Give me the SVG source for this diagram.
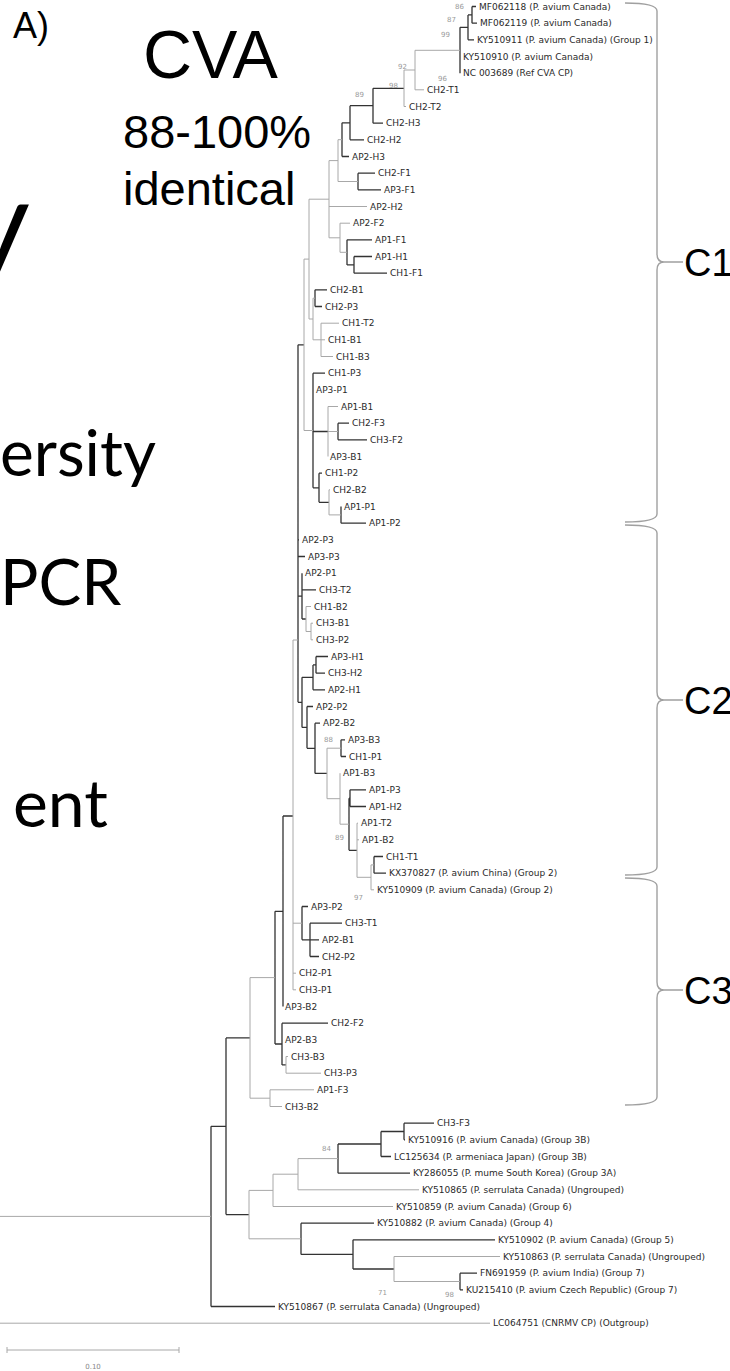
<svg xmlns="http://www.w3.org/2000/svg" width="730" height="1371" viewBox="0 0 730 1371">
<style>
.k{fill:none;stroke:#333;stroke-width:1.3}
.g{fill:none;stroke:#a8a8a8;stroke-width:1}
.br{fill:none;stroke:#a0a0a0;stroke-width:1.4}
.lb{font-family:"DejaVu Sans",sans-serif;font-size:9px;fill:#2a2a2a}
.bs{font-family:"DejaVu Sans",sans-serif;font-size:7px;fill:#9a9a9a}
.big{font-family:"Liberation Sans",Arial,sans-serif;fill:#000}
.sl{font-family:Lato,"Open Sans",sans-serif;fill:#000}
</style>
<rect width="730" height="1371" fill="#fff"/>
<g id="slide-text">
<text class="big" x="13" y="38" font-size="36">A)</text>
<text class="big" x="143" y="78" font-size="68">CVA</text>
<text class="big" x="123" y="148" font-size="47">88-100%</text>
<text class="big" x="123" y="205" font-size="47">identical</text>
<text class="sl" x="-32" y="265" font-size="120">y</text>
<text class="sl" x="0" y="476" font-size="64">ersity</text>
<text class="sl" x="0" y="605" font-size="64">PCR</text>
<text class="sl" x="13" y="827" font-size="66">ent</text>
</g>
<g id="connectors">
<path class="k" d="M472 6.5V23.2M472 6.5H476M472 23.2H477M468 14.9V39.8M468 14.9H472M468 39.8H474M460 27.3V73.2M460 27.3H468M373 88.3V123.2M373 88.3H404M373 123.2H383M350 105.7V139.8M350 105.7H373M350 139.8H364M342 122.8V156.5M342 122.8H350M342 156.5H349M358 173.2V189.8M358 173.2H375M358 189.8H381M354 256.5V273.2M354 256.5H372M354 273.2H387M347 239.8V264.9M347 239.8H372M347 264.9H354M315 289.8V306.5M315 289.8H327M315 306.5H322M338 423.2V439.8M338 423.2H349M338 439.8H367M341 506.5V523.2M341 523.2H366M319 473.2V502.3M319 473.2H322M319 502.3H329M313 373.2V487.8M313 373.2H325M313 431.5H328M313 487.8H319M298 344.8V702.3M298 344.8H304M298 539.8H299M298 556.5H305M298 596.1H302M298 702.3H302M302 573.2V619M302 589.8H316M302 619H306M316 656.5V673.2M316 656.5H328M316 673.2H325M313 664.9V689.8M313 664.9H316M313 689.8H325M302 677.3V727.4M302 677.3H313M302 727.4H307M307 706.5V748.3M307 706.5H313M307 748.3H315M315 723.2V773.4M315 723.2H320M315 773.4H327M341 739.8V756.5M341 739.8H345M341 756.5H346M349 798.2V850.3M349 798.2H350M349 850.3H357M350 789.8V806.5M350 789.8H366M350 806.5H366M374 856.5V873.2M374 856.5H383M374 873.2H386M302 906.5V939.8M302 906.5H308M302 939.8H310M310 923.2V956.5M310 923.2H342M310 939.8H319M310 956.5H319M283 816V1006.5M283 816H293M282 1023.2V1064.9M282 1023.2H328M282 1064.9H286M275 911.3V1044M275 911.3H283M275 1044H282M226 1037.9V1214.6M226 1037.9H250M226 1214.6H249M338 1144V1173.2M338 1144H381M338 1173.2H410M381 1131.5V1156.5M381 1131.5H404M381 1156.5H391M404 1123.2V1139.8M404 1123.2H434M404 1139.8H405M301 1223.2V1254.4M301 1223.2H374M301 1254.4H353M353 1239.8V1269M353 1239.8H495M353 1269H394M460 1273.2V1289.8M460 1273.2H477M460 1289.8H463M211 1126.3V1306.5M211 1126.3H226M211 1306.5H275"/>
<path class="g" d="M415 50.3V89.8M415 50.3H460M415 89.8H424M404 70V106.5M404 70H415M404 106.5H406M338 139.7V181.5M338 139.7H342M338 181.5H358M340 223.2V252.3M340 223.2H350M340 252.3H347M329 160.6V237.8M329 160.6H338M329 206.5H367M329 237.8H340M321 323.2V356.5M321 323.2H339M321 339.8H325M321 356.5H333M313 298.2V339.8M313 298.2H315M313 339.8H321M309 199.2V319M309 199.2H329M309 319H313M328 406.5V456.5M328 406.5H338M328 431.5H338M329 489.8V514.9M329 489.8H330M329 514.9H341M304 259.1V430.5M304 259.1H309M304 430.5H313M311 623.2V639.8M311 623.2H313M311 639.8H313M306 606.5V631.5M306 606.5H311M306 631.5H311M327 748.2V798.7M327 748.2H341M327 798.7H340M340 773.2V824.2M340 824.2H349M357 823.2V877.3M357 823.2H358M357 839.8H359M357 877.3H371M371 864.9V889.8M371 864.9H374M371 889.8H374M293 640V989.8M293 640H298M293 923.2H302M293 973.2H296M293 989.8H296M286 1056.5V1073.2M286 1056.5H288M286 1073.2H321M270 1089.8V1106.5M270 1089.8H314M270 1106.5H282M250 977.6V1098.2M250 977.6H275M250 1098.2H270M249 1190.4V1238.8M249 1190.4H273M249 1238.8H301M273 1174.2V1206.5M273 1174.2H298M273 1206.5H393M298 1158.6V1189.8M298 1158.6H338M298 1189.8H419M394 1256.5V1281.5M394 1256.5H500M394 1281.5H460M0 1216.4H211M0 1323.2H490"/>
</g>
<g id="bootstrap">
<text class="bs" x="455" y="9">86</text>
<text class="bs" x="447" y="22">87</text>
<text class="bs" x="441" y="37">99</text>
<text class="bs" x="398" y="69">92</text>
<text class="bs" x="389" y="88">98</text>
<text class="bs" x="438" y="81">96</text>
<text class="bs" x="355" y="97">89</text>
<text class="bs" x="324" y="742">88</text>
<text class="bs" x="335" y="840">89</text>
<text class="bs" x="354" y="900">97</text>
<text class="bs" x="322" y="1151">84</text>
<text class="bs" x="378" y="1295">71</text>
<text class="bs" x="445" y="1297">98</text>
</g>
<g id="leaves" class="lb">
<g id="L01"><text x="479" y="9.7">MF062118 (P. avium Canada)</text></g>
<g id="L02"><text x="480" y="26.4">MF062119 (P. avium Canada)</text></g>
<g id="L03"><text x="477" y="43">KY510911 (P. avium Canada) (Group 1)</text></g>
<g id="L04"><text x="463" y="59.7">KY510910 (P. avium Canada)</text></g>
<g id="L05"><text x="463" y="76.4">NC 003689 (Ref CVA CP)</text></g>
<g id="L06"><text x="427" y="93">CH2-T1</text></g>
<g id="L07"><text x="409" y="109.7">CH2-T2</text></g>
<g id="L08"><text x="386" y="126.4">CH2-H3</text></g>
<g id="L09"><text x="367" y="143">CH2-H2</text></g>
<g id="L10"><text x="352" y="159.7">AP2-H3</text></g>
<g id="L11"><text x="378" y="176.4">CH2-F1</text></g>
<g id="L12"><text x="384" y="193">AP3-F1</text></g>
<g id="L13"><text x="370" y="209.7">AP2-H2</text></g>
<g id="L14"><text x="353" y="226.4">AP2-F2</text></g>
<g id="L15"><text x="375" y="243">AP1-F1</text></g>
<g id="L16"><text x="375" y="259.7">AP1-H1</text></g>
<g id="L17"><text x="390" y="276.4">CH1-F1</text></g>
<g id="L18"><text x="330" y="293">CH2-B1</text></g>
<g id="L19"><text x="325" y="309.7">CH2-P3</text></g>
<g id="L20"><text x="342" y="326.4">CH1-T2</text></g>
<g id="L21"><text x="328" y="343">CH1-B1</text></g>
<g id="L22"><text x="336" y="359.7">CH1-B3</text></g>
<g id="L23"><text x="328" y="376.4">CH1-P3</text></g>
<g id="L24"><text x="316" y="393">AP3-P1</text></g>
<g id="L25"><text x="341" y="409.7">AP1-B1</text></g>
<g id="L26"><text x="352" y="426.4">CH2-F3</text></g>
<g id="L27"><text x="370" y="443">CH3-F2</text></g>
<g id="L28"><text x="330" y="459.7">AP3-B1</text></g>
<g id="L29"><text x="325" y="476.4">CH1-P2</text></g>
<g id="L30"><text x="333" y="493">CH2-B2</text></g>
<g id="L31"><text x="344" y="509.7">AP1-P1</text></g>
<g id="L32"><text x="369" y="526.4">AP1-P2</text></g>
<g id="L33"><text x="302" y="543">AP2-P3</text></g>
<g id="L34"><text x="308" y="559.7">AP3-P3</text></g>
<g id="L35"><text x="305" y="576.4">AP2-P1</text></g>
<g id="L36"><text x="319" y="593">CH3-T2</text></g>
<g id="L37"><text x="314" y="609.7">CH1-B2</text></g>
<g id="L38"><text x="316" y="626.4">CH3-B1</text></g>
<g id="L39"><text x="316" y="643">CH3-P2</text></g>
<g id="L40"><text x="331" y="659.7">AP3-H1</text></g>
<g id="L41"><text x="328" y="676.4">CH3-H2</text></g>
<g id="L42"><text x="328" y="693">AP2-H1</text></g>
<g id="L43"><text x="316" y="709.7">AP2-P2</text></g>
<g id="L44"><text x="323" y="726.4">AP2-B2</text></g>
<g id="L45"><text x="348" y="743">AP3-B3</text></g>
<g id="L46"><text x="349" y="759.7">CH1-P1</text></g>
<g id="L47"><text x="343" y="776.4">AP1-B3</text></g>
<g id="L48"><text x="369" y="793">AP1-P3</text></g>
<g id="L49"><text x="369" y="809.7">AP1-H2</text></g>
<g id="L50"><text x="361" y="826.4">AP1-T2</text></g>
<g id="L51"><text x="362" y="843">AP1-B2</text></g>
<g id="L52"><text x="386" y="859.7">CH1-T1</text></g>
<g id="L53"><text x="389" y="876.4">KX370827 (P. avium China) (Group 2)</text></g>
<g id="L54"><text x="377" y="893">KY510909 (P. avium Canada) (Group 2)</text></g>
<g id="L55"><text x="311" y="909.7">AP3-P2</text></g>
<g id="L56"><text x="345" y="926.4">CH3-T1</text></g>
<g id="L57"><text x="322" y="943">AP2-B1</text></g>
<g id="L58"><text x="322" y="959.7">CH2-P2</text></g>
<g id="L59"><text x="299" y="976.4">CH2-P1</text></g>
<g id="L60"><text x="299" y="993">CH3-P1</text></g>
<g id="L61"><text x="285" y="1009.7">AP3-B2</text></g>
<g id="L62"><text x="331" y="1026.4">CH2-F2</text></g>
<g id="L63"><text x="285" y="1043">AP2-B3</text></g>
<g id="L64"><text x="291" y="1059.7">CH3-B3</text></g>
<g id="L65"><text x="324" y="1076.4">CH3-P3</text></g>
<g id="L66"><text x="317" y="1093">AP1-F3</text></g>
<g id="L67"><text x="285" y="1109.7">CH3-B2</text></g>
<g id="L68"><text x="437" y="1126.4">CH3-F3</text></g>
<g id="L69"><text x="408" y="1143">KY510916 (P. avium Canada) (Group 3B)</text></g>
<g id="L70"><text x="394" y="1159.7">LC125634 (P. armeniaca Japan) (Group 3B)</text></g>
<g id="L71"><text x="413" y="1176.4">KY286055 (P. mume South Korea) (Group 3A)</text></g>
<g id="L72"><text x="422" y="1193">KY510865 (P. serrulata Canada) (Ungrouped)</text></g>
<g id="L73"><text x="396" y="1209.7">KY510859 (P. avium Canada) (Group 6)</text></g>
<g id="L74"><text x="377" y="1226.4">KY510882 (P. avium Canada) (Group 4)</text></g>
<g id="L75"><text x="498" y="1243">KY510902 (P. avium Canada) (Group 5)</text></g>
<g id="L76"><text x="503" y="1259.7">KY510863 (P. serrulata Canada) (Ungrouped)</text></g>
<g id="L77"><text x="480" y="1276.4">FN691959 (P. avium India) (Group 7)</text></g>
<g id="L78"><text x="466" y="1293">KU215410 (P. avium Czech Republic) (Group 7)</text></g>
<g id="L79"><text x="278" y="1309.7">KY510867 (P. serrulata Canada) (Ungrouped)</text></g>
<g id="L80"><text x="493" y="1326.4">LC064751 (CNRMV CP) (Outgroup)</text></g>
</g>
<g id="clusters">
<g id="C1"><path class="br" d="M625 3Q657 3 657 11V254Q657 262 664 262Q657 262 657 270V514Q657 522 625 522M664 262H683"/><text class="big" x="684" y="275.5" font-size="38">C1</text></g>
<g id="C2"><path class="br" d="M625 525Q657 525 657 533V692Q657 700 664 700Q657 700 657 708V867Q657 875 625 875M664 700H683"/><text class="big" x="684" y="713.5" font-size="38">C2</text></g>
<g id="C3"><path class="br" d="M625 878Q657 878 657 886V982Q657 990 664 990Q657 990 657 998V1097Q657 1105 625 1105M664 990H683"/><text class="big" x="684" y="1003.5" font-size="38">C3</text></g>
</g>
<g id="scale-bar">
<path class="g" d="M7 1350H179M7 1347V1353M179 1347V1353" stroke="#888"/>
<text x="93" y="1369" text-anchor="middle" font-family="DejaVu Sans,sans-serif" font-size="7" fill="#888">0.10</text>
</g>
</svg>
